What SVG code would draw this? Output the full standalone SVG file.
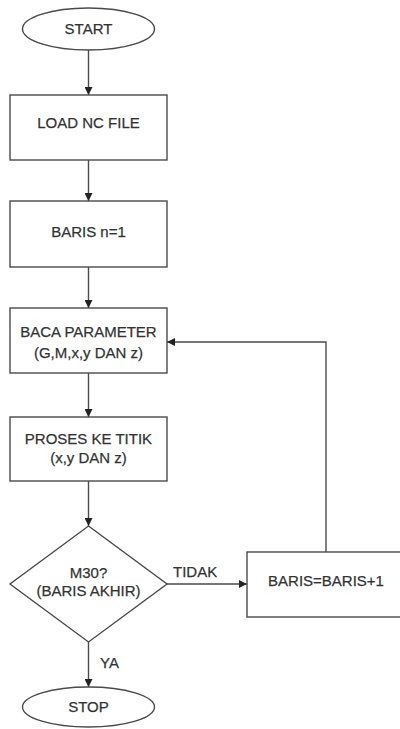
<svg xmlns="http://www.w3.org/2000/svg" width="400" height="729" viewBox="0 0 400 729">
<defs>
<style>
.s{fill:#fff;stroke:#4a4a4a;stroke-width:1.4}
.c{fill:none;stroke:#4a4a4a;stroke-width:1.4}
.t{font-family:"Liberation Sans",Arial,sans-serif;font-size:15px;fill:#333;stroke:#333;stroke-width:0.25;text-anchor:middle}
.l{font-family:"Liberation Sans",Arial,sans-serif;font-size:15px;fill:#333;stroke:#333;stroke-width:0.25}
</style>
<marker id="a" viewBox="0 0 10 10" refX="10" refY="5" markerWidth="8" markerHeight="8" markerUnits="userSpaceOnUse" orient="auto">
<path d="M0,0 L10,5 L0,10 z" fill="#222"/>
</marker>
</defs>
<rect width="400" height="729" fill="#fff"/>
<g id="connectors">
<path class="c" d="M88.5,50 V95" marker-end="url(#a)"/>
<path class="c" d="M88.5,160 V201" marker-end="url(#a)"/>
<path class="c" d="M88.5,267 V308" marker-end="url(#a)"/>
<path class="c" d="M88.5,373 V417" marker-end="url(#a)"/>
<path class="c" d="M88.5,481 V526" marker-end="url(#a)"/>
<path class="c" d="M167,584 H247" marker-end="url(#a)"/>
<path class="c" d="M326,552 V342 H167" marker-end="url(#a)"/>
<path class="c" d="M88.5,642 V687" marker-end="url(#a)"/>
<text class="l" x="173" y="577">TIDAK</text>
<text class="l" x="100" y="668">YA</text>
</g>
<g id="start">
<ellipse class="s" cx="88.5" cy="29" rx="66" ry="21"/>
<text class="t" x="88.5" y="34">START</text>
</g>
<g id="load">
<rect class="s" x="10" y="95" width="157" height="65"/>
<text class="t" x="88.5" y="128">LOAD NC FILE</text>
</g>
<g id="baris1">
<rect class="s" x="10" y="201" width="157" height="66"/>
<text class="t" x="88.5" y="237">BARIS n=1</text>
</g>
<g id="baca">
<rect class="s" x="10" y="308" width="157" height="65"/>
<text class="t" x="88.5" y="337">BACA PARAMETER</text>
<text class="t" x="88.5" y="358">(G,M,x,y DAN z)</text>
</g>
<g id="proses">
<rect class="s" x="10" y="417" width="157" height="64"/>
<text class="t" x="88.5" y="444">PROSES KE TITIK</text>
<text class="t" x="88.5" y="463">(x,y DAN z)</text>
</g>
<g id="m30">
<path class="s" d="M88.5,526 L167,584 L88.5,642 L10,584 Z"/>
<text class="t" x="88.5" y="578">M30?</text>
<text class="t" x="88.5" y="596">(BARIS AKHIR)</text>
</g>
<g id="inc">
<rect class="s" x="247" y="552" width="158" height="65"/>
<text class="t" x="326" y="586">BARIS=BARIS+1</text>
</g>
<g id="stop">
<ellipse class="s" cx="88.5" cy="707" rx="66" ry="20"/>
<text class="t" x="88.5" y="712">STOP</text>
</g>
</svg>
